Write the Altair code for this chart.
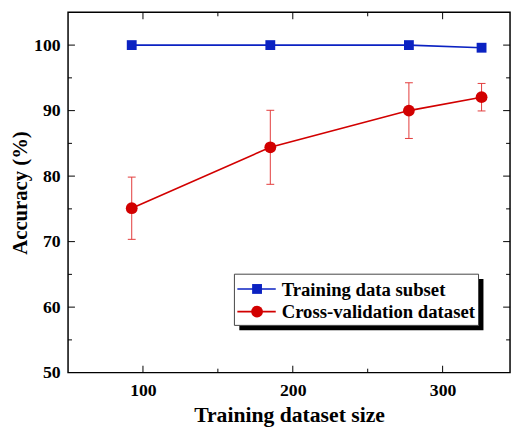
import altair as alt
import pandas as pd

# ---- data ----
sizes = [92.5, 185, 277.5, 326]
train_acc = [100.0, 100.0, 100.0, 99.6]
cv_acc = [75.1, 84.4, 90.0, 92.05]
cv_err = [4.75, 5.65, 4.25, 2.1]
series_names = ["Training data subset", "Cross-validation dataset"]
x_labels = [100, 200, 300]
y_labels = [50, 60, 70, 80, 90, 100]
x_major = [100, 200, 300]
x_minor = [150, 250]
y_major = [60, 70, 80, 90, 100]
y_minor = [55, 65, 75, 85, 95]

# ---- styling ----
W, H = 449, 366
BLUE = "#0b22c2"
RED = "#d20000"
ERR = "#e23a3a"
FONT = "Liberation Serif"

df = pd.DataFrame({
    "size": sizes + sizes,
    "acc": train_acc + cv_acc,
    "series": [series_names[0]] * len(sizes) + [series_names[1]] * len(sizes),
})
err_df = pd.DataFrame({
    "size": sizes,
    "lo": [a - e for a, e in zip(cv_acc, cv_err)],
    "hi": [a + e for a, e in zip(cv_acc, cv_err)],
})

xscale = alt.Scale(domain=[50, 345], nice=False, zero=False)
yscale = alt.Scale(domain=[50, 105], nice=False, zero=False)

xaxis = alt.Axis(values=x_labels, ticks=False, domain=False, grid=False,
                 labelPadding=9, title="Training dataset size", titlePadding=6,
                 format="d", titleFontSize=22)
yaxis = alt.Axis(values=y_labels, ticks=False, domain=False, grid=False,
                 labelPadding=8, title="Accuracy (%)", titlePadding=3,
                 format="d", titleFontSize=21)


def X(field):
    return alt.X(field, scale=xscale, axis=xaxis)


def Y(field):
    return alt.Y(field, scale=yscale, axis=yaxis)


base = alt.Chart(df)

lines = base.mark_line(strokeWidth=1.6).encode(
    x=X("size:Q"),
    y=Y("acc:Q"),
    color=alt.Color("series:N", scale=alt.Scale(domain=series_names, range=[BLUE, RED]),
                    legend=None),
)

err_rule = alt.Chart(err_df).mark_rule(color=ERR, strokeWidth=1).encode(
    x=X("size:Q"), y=Y("lo:Q"), y2="hi:Q",
)
cap_hi = alt.Chart(err_df).mark_tick(color=ERR, thickness=1, size=8, orient="horizontal",
                                     opacity=1).encode(x=X("size:Q"), y=Y("hi:Q"))
cap_lo = alt.Chart(err_df).mark_tick(color=ERR, thickness=1, size=8, orient="horizontal",
                                     opacity=1).encode(x=X("size:Q"), y=Y("lo:Q"))

pts_blue = base.transform_filter(alt.datum.series == series_names[0]).mark_point(
    shape="square", filled=True, size=100, opacity=1, color=BLUE
).encode(x=X("size:Q"), y=Y("acc:Q"))
pts_red = base.transform_filter(alt.datum.series == series_names[1]).mark_point(
    shape="circle", filled=True, size=144, opacity=1, color=RED
).encode(x=X("size:Q"), y=Y("acc:Q"))


def yticks(vals, length):
    d = alt.Chart(pd.DataFrame({"v": vals}))
    left = d.mark_rule(color="black", strokeWidth=1).encode(
        y=Y("v:Q"), x=alt.value(0), x2=alt.value(length))
    right = d.mark_rule(color="black", strokeWidth=1).encode(
        y=Y("v:Q"), x=alt.value(W), x2=alt.value(W - length))
    return [left, right]


def xticks(vals, length):
    d = alt.Chart(pd.DataFrame({"v": vals}))
    bottom = d.mark_rule(color="black", strokeWidth=1).encode(
        x=X("v:Q"), y=alt.value(H), y2=alt.value(H - length))
    top = d.mark_rule(color="black", strokeWidth=1).encode(
        x=X("v:Q"), y=alt.value(0), y2=alt.value(length))
    return [bottom, top]


tick_layers = yticks(y_major, 7) + yticks(y_minor, 4) + xticks(x_major, 7) + xticks(x_minor, 4)

# ---- legend box (boxed, with drop shadow) drawn inside the plot area ----
one = alt.Chart(pd.DataFrame({"a": [0]}))
LX0, LX1, LY0, LY1 = 169, 417, 266, 318
shadow = one.mark_rect(color="black", opacity=1).encode(
    x=alt.value(LX0 + 5), x2=alt.value(LX1 + 5), y=alt.value(LY0 + 5), y2=alt.value(LY1 + 5)
)
box = one.mark_rect(fill="white", stroke="#444444", strokeWidth=1, opacity=1).encode(
    x=alt.value(LX0), x2=alt.value(LX1), y=alt.value(LY0), y2=alt.value(LY1)
)


def legend_row(name, color, shape, size, ypix):
    stub = one.mark_rule(color=color, strokeWidth=1.6).encode(
        x=alt.value(LX0 + 3), x2=alt.value(LX0 + 42), y=alt.value(ypix))
    marker = one.mark_point(shape=shape, filled=True, size=size, opacity=1, color=color).encode(
        x=alt.value(LX0 + 23), y=alt.value(ypix))
    label = one.mark_text(text=name, align="left", baseline="middle", font=FONT,
                          fontSize=19, fontWeight="bold", color="black").encode(
        x=alt.value(LX0 + 48), y=alt.value(ypix + 1))
    return [stub, marker, label]


legend_layers = [shadow, box] + legend_row(series_names[0], BLUE, "square", 100, 281) \
    + legend_row(series_names[1], RED, "circle", 144, 304)

chart = alt.layer(
    lines, err_rule, cap_hi, cap_lo, pts_blue, pts_red, *tick_layers, *legend_layers
).properties(
    width=W, height=H,
    padding={"left": 61, "top": 1, "right": 2, "bottom": 64},
    autosize=alt.AutoSizeParams(type="none"),
    background="white",
).configure_view(
    stroke="black", strokeWidth=1.5
).configure_axis(
    labelFont=FONT, labelFontSize=18, labelFontWeight="bold", labelColor="black",
    titleFont=FONT, titleFontWeight="bold", titleColor="black",
)

chart.save("out.html", embed_options={"renderer": "svg", "actions": False})
